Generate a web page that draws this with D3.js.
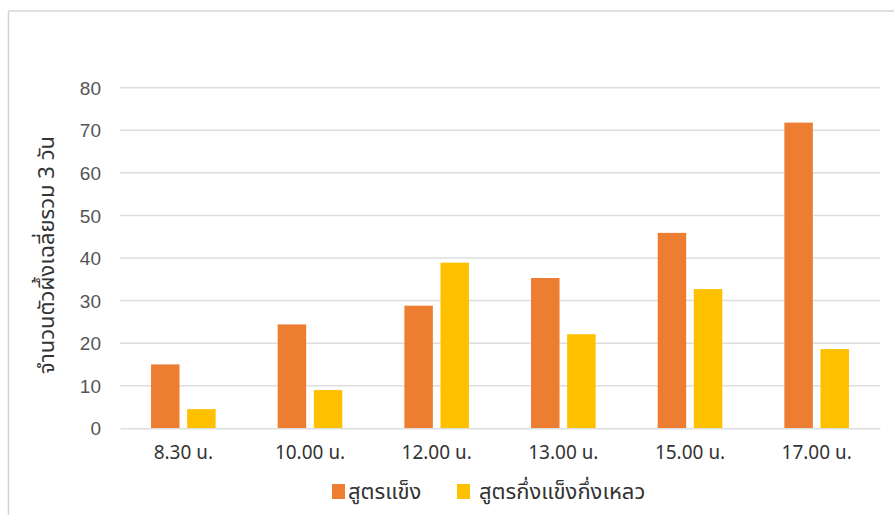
<!DOCTYPE html>
<html>
<head>
<meta charset="utf-8">
<script src="https://cdn.jsdelivr.net/npm/d3@7"></script>
<style>
  html, body { margin: 0; padding: 0; background: #ffffff; }
  svg { display: block; }
  text { font-family: "Noto Sans Thai", "Liberation Sans", "DejaVu Sans", "Noto Sans", sans-serif; }
</style>
</head>
<body>
<svg id="chart" width="894" height="515"></svg>
<script>
const categories = ["8.30 น.", "10.00 น.", "12.00 น.", "13.00 น.", "15.00 น.", "17.00 น."];
const seriesNames = ["สูตรแข็ง", "สูตรกึ่งแข็งกึ่งเหลว"];
const solidValues = [15, 24.4, 28.8, 35.3, 45.9, 71.8];
const semiValues = [4.5, 9, 38.9, 22.1, 32.7, 18.6];
const yTicks = [0, 10, 20, 30, 40, 50, 60, 70, 80];
const yTitle = "จำนวนตัวผึ้งเฉลี่ยรวม 3 วัน";
const colors = ["#ED7D31", "#FFC000"];

const svg = d3.select("#chart");
const W = 894, H = 515;
const plotLeft = 120, plotRight = 880, plotTop = 87.7, plotBottom = 428.3;

// frame
svg.append("line").attr("x1", 8.5).attr("x2", W).attr("y1", 11).attr("y2", 11)
  .attr("stroke", "#d4d4d4").attr("stroke-width", 1.5);
svg.append("line").attr("x1", 8.5).attr("x2", 8.5).attr("y1", 11).attr("y2", H)
  .attr("stroke", "#d4d4d4").attr("stroke-width", 1.5);

const x0 = d3.scaleBand().domain(categories).range([plotLeft, plotRight]).paddingInner(0).paddingOuter(0);
const groupW = 64.6;
const x1 = d3.scaleBand().domain(seriesNames)
  .range([(x0.step() - groupW) / 2, (x0.step() + groupW) / 2])
  .paddingInner(0.211).paddingOuter(0);
const y = d3.scaleLinear().domain([0, 80]).range([plotBottom, plotTop]);

// gridlines
svg.append("g").selectAll("line").data(yTicks.filter(t => t > 0)).join("line")
  .attr("x1", plotLeft).attr("x2", plotRight)
  .attr("y1", d => y(d)).attr("y2", d => y(d))
  .attr("stroke", "#dedede").attr("stroke-width", 1.5);

// y axis labels
const yAxis = d3.axisLeft(y).tickValues(yTicks).tickSize(0).tickPadding(0);
const gy = svg.append("g").attr("transform", `translate(${101},0)`).call(yAxis);
gy.select(".domain").remove();
gy.selectAll("text").attr("fill", "#555555").style("font-size", "19px")
  .style("font-family", '"Liberation Sans", "DejaVu Sans", sans-serif')
  .attr("dy", "0.35em");

// bars
const data = categories.map((c, i) => ({ cat: c, vals: [solidValues[i], semiValues[i]] }));
const groups = svg.append("g").selectAll("g").data(data).join("g")
  .attr("transform", d => `translate(${x0(d.cat)},0)`);
groups.selectAll("rect").data(d => d.vals.map((v, j) => ({ key: seriesNames[j], v, j })))
  .join("rect")
  .attr("x", d => x1(d.key))
  .attr("width", x1.bandwidth())
  .attr("y", d => y(d.v))
  .attr("height", d => y(0) - y(d.v))
  .attr("fill", d => colors[d.j]);

// x axis
const xAxis = d3.axisBottom(x0).tickSize(0).tickPadding(0);
const gx = svg.append("g").attr("transform", `translate(0,${plotBottom})`).call(xAxis);
gx.select(".domain").attr("stroke", "#dedede").attr("stroke-width", 1.5);
gx.selectAll("text").attr("fill", "#333333").style("font-size", "19px")
  .attr("y", 24).attr("dy", "0.35em");

// y title
svg.append("text")
  .attr("transform", `translate(54,255) rotate(-90)`)
  .attr("text-anchor", "middle")
  .attr("fill", "#333333")
  .style("font-size", "22px")
  .text(yTitle);

// legend
const legendItems = [
  { name: seriesNames[0], color: colors[0], sx: 332, tx: 348 },
  { name: seriesNames[1], color: colors[1], sx: 457, tx: 479 }
];
const lg = svg.append("g");
lg.selectAll("rect").data(legendItems).join("rect")
  .attr("x", d => d.sx).attr("y", 484).attr("width", 13).attr("height", 15)
  .attr("fill", d => d.color);
lg.selectAll("text").data(legendItems).join("text")
  .attr("x", d => d.tx).attr("y", 491).attr("dy", "0.35em")
  .attr("fill", "#333333").style("font-size", "22px")
  .text(d => d.name);
</script>
</body>
</html>
